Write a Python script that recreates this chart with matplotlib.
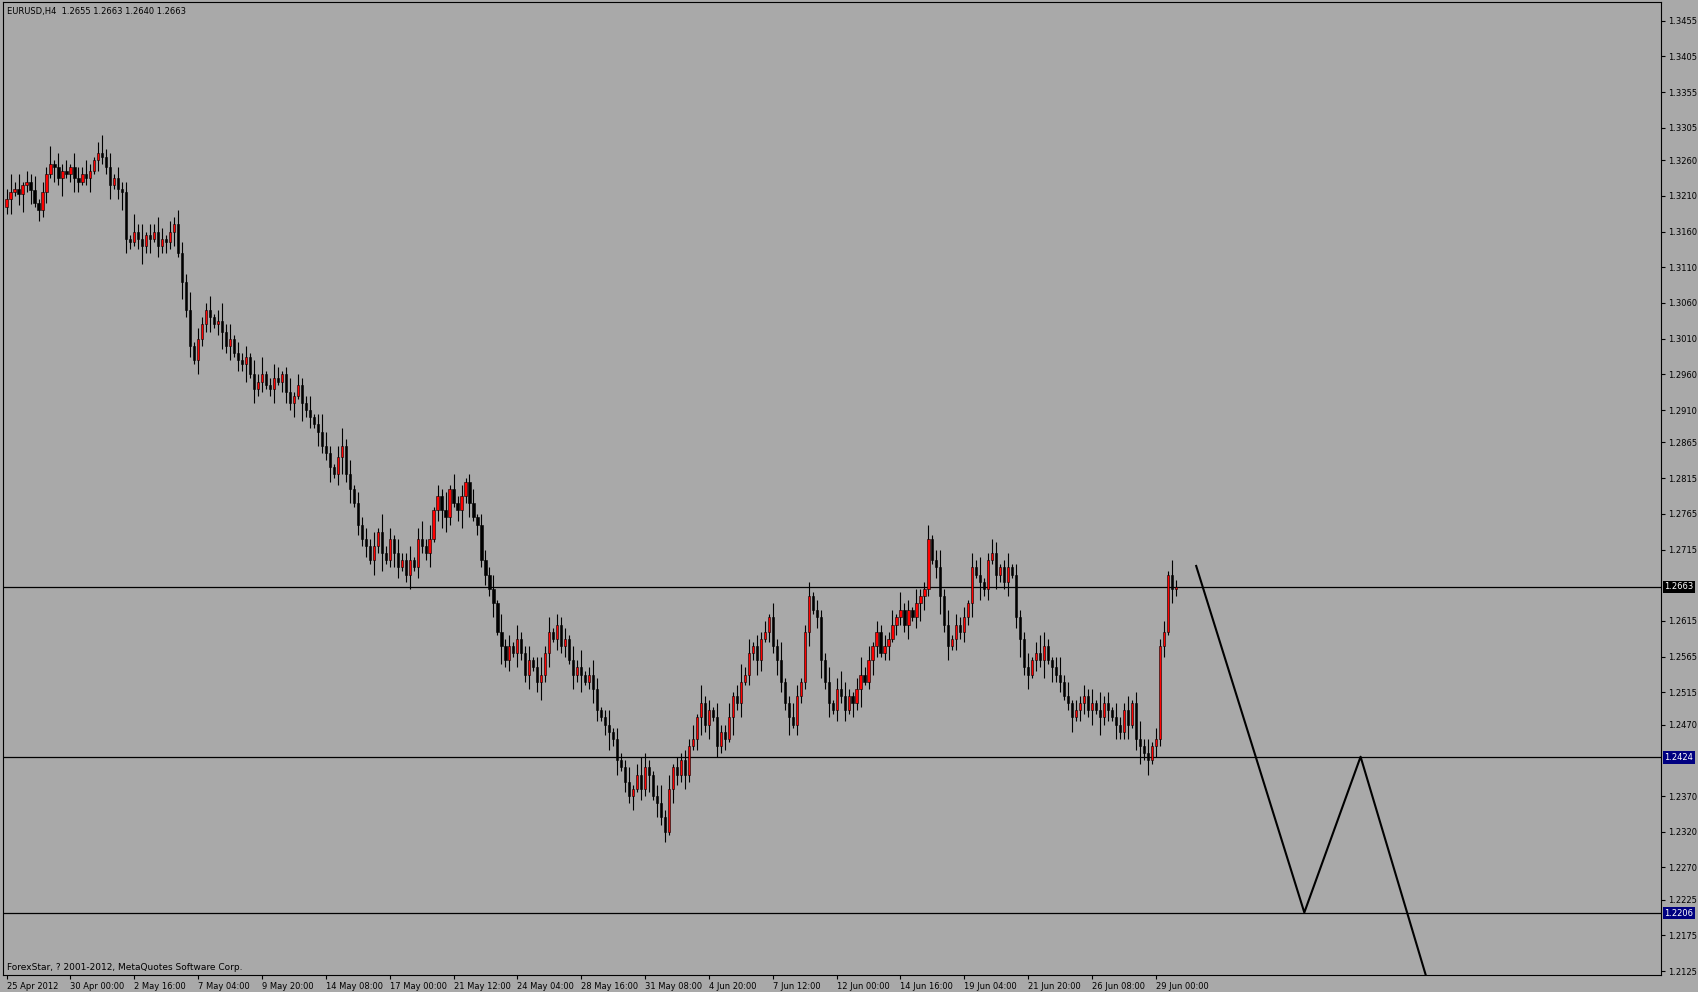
import matplotlib
matplotlib.use("Agg")
import matplotlib.pyplot as plt

closes = [
13205,13215,13220,13212,13225,13230,13218,13200,13190,13215,
13240,13255,13250,13235,13245,13240,13250,13235,13230,13240,
13235,13245,13260,13270,13265,13250,13225,13235,13220,13215,
13150,13145,13160,13150,13140,13155,13150,13160,13140,13150,
13145,13160,13170,13130,13090,13050,13000,12980,13010,13030,
13050,13040,13030,13035,13020,13000,13010,12990,12980,12975,
12985,12960,12940,12950,12960,12945,12940,12955,12950,12960,
12935,12920,12930,12945,12920,12910,12900,12890,12880,12860,
12850,12830,12820,12845,12860,12820,12800,12780,12750,12730,
12720,12700,12720,12740,12710,12700,12730,12710,12690,12700,
12680,12700,12690,12730,12720,12710,12730,12770,12790,12770,
12760,12800,12780,12770,12790,12810,12780,12760,12750,12700,
12680,12660,12640,12600,12580,12560,12580,12570,12590,12570,
12540,12560,12550,12530,12540,12570,12600,12590,12610,12580,
12590,12560,12540,12550,12540,12530,12540,12520,12490,12480,
12470,12460,12450,12420,12410,12390,12370,12380,12400,12380,
12410,12400,12370,12360,12340,12320,12380,12410,12400,12420,
12400,12440,12450,12480,12500,12470,12490,12480,12440,12460,
12450,12480,12510,12500,12530,12540,12570,12580,12560,12590,
12600,12620,12580,12560,12530,12500,12480,12470,12510,12530,
12600,12650,12630,12620,12560,12530,12500,12490,12520,12510,
12490,12510,12500,12520,12540,12530,12560,12580,12600,12570,
12580,12590,12610,12620,12630,12610,12630,12620,12640,12650,
12660,12730,12700,12690,12650,12610,12580,12590,12610,12600,
12620,12640,12690,12680,12670,12660,12700,12710,12680,12690,
12670,12690,12680,12620,12590,12550,12540,12560,12570,12560,
12580,12560,12550,12540,12530,12510,12500,12480,12490,12500,
12510,12490,12500,12490,12480,12500,12490,12480,12470,12460,
12490,12470,12500,12450,12440,12430,12420,12440,12450,12580,
12600,12680,12660,12663]
first_open = 13195
# wick lengths (x5 pips) per bar
hi_wick = ("3524132413" "2514231432" "4213524132" "3152413243" "1324325132"
           "2413524132" "3142512431" "2413224135" "4213524132" "3241523142"
           "2413524132" "5142312413" "3241523142" "2413524132" "3142512431"
           "2413224135" "4213524132" "3241523142" "2413524132" "3142512431"
           "2413224135" "4213524132" "3241523142" "2413524132" "3142512431"
           "2413224135" "4213524132" "3241523142" "2413524132" "3142")
lo_wick = ("2413524132" "3142512431" "2413224135" "4213524132" "3241523142"
           "2413524132" "5142312413" "3241523142" "2413524132" "3142512431"
           "2413224135" "4213524132" "3241523142" "2413524132" "3142512431"
           "3524132413" "2514231432" "4213524132" "3152413243" "1324325132"
           "2413524132" "3142512431" "2413224135" "4213524132" "3241523142"
           "2413524132" "5142312413" "3241523142" "2413524132" "3142")

levels = [1.2663, 1.2424, 1.2206]
zz_x = [298.1, 325.2, 339.3, 355.6]
zz_y = [1.2692, 1.2207, 1.2425, 1.2120]

yticks = [1.3455,1.3405,1.3355,1.3305,1.3260,1.3210,1.3160,1.3110,1.3060,1.3010,
          1.2960,1.2910,1.2865,1.2815,1.2765,1.2715,1.2615,1.2565,1.2515,1.2470,
          1.2370,1.2320,1.2270,1.2225,1.2175,1.2125]
xlabels = ["25 Apr 2012","30 Apr 00:00","2 May 16:00","7 May 04:00","9 May 20:00",
           "14 May 08:00","17 May 00:00","21 May 12:00","24 May 04:00","28 May 16:00",
           "31 May 08:00","4 Jun 20:00","7 Jun 12:00","12 Jun 00:00","14 Jun 16:00",
           "19 Jun 04:00","21 Jun 20:00","26 Jun 08:00","29 Jun 00:00"]

W, H = 1568, 916
fig = plt.figure(figsize=(16.99, 9.92), dpi=100)
fig.patch.set_facecolor("#A9A9A9")
ax = fig.add_axes([0.002, 1 - 900 / H, 1533 / W - 0.002, 898 / H])
ax.set_facecolor("#A9A9A9")
for s in ax.spines.values():
    s.set_color("black"); s.set_linewidth(0.8)

prev = first_open
for i, c in enumerate(closes):
    o = prev / 10000; cl = c / 10000
    hi = max(o, cl) + int(hi_wick[i]) * 0.0005
    lo = min(o, cl) - int(lo_wick[i]) * 0.0005
    ax.vlines(i, lo, hi, color="black", lw=0.8, zorder=2)
    col = "#FF0000" if cl >= o else "black"
    bot = min(o, cl); h = max(abs(cl - o), 0.00008)
    ax.bar(i, h, bottom=bot, width=0.55, color=col, edgecolor="black", lw=0.4, zorder=3)
    prev = c

for lv in levels:
    ax.axhline(lv, color="black", lw=0.9, zorder=1)
ax.plot(zz_x, zz_y, color="black", lw=1.5, zorder=4)

ax.set_xlim(-0.8, 414.6)
ax.set_ylim(1.2120, 1.3481)
ax.yaxis.tick_right()
ax.set_yticks(yticks)
ax.set_yticklabels([f"{v:.4f}" for v in yticks], fontsize=6)
ax.set_xticks([16 * k for k in range(len(xlabels))])
ax.set_xticklabels(xlabels, fontsize=6, ha="left")
ax.tick_params(direction="out", length=3, color="black", pad=2)

for lv, fc in zip(levels, ["black", "#000080", "#000080"]):
    ax.text(1.002, lv, f"{lv:.4f}", transform=ax.get_yaxis_transform(), fontsize=6,
            color="white", va="center", ha="left",
            bbox=dict(boxstyle="square,pad=0.2", fc=fc, ec="none"))

fig.text(0.004, 1 - 11 / H, "EURUSD,H4  1.2655 1.2663 1.2640 1.2663", fontsize=6, va="center")
fig.text(0.004, 1 - 893 / H, "ForexStar, ? 2001-2012, MetaQuotes Software Corp.", fontsize=6.5, va="center")
fig.savefig("out.png", dpi=100, facecolor=fig.get_facecolor())
